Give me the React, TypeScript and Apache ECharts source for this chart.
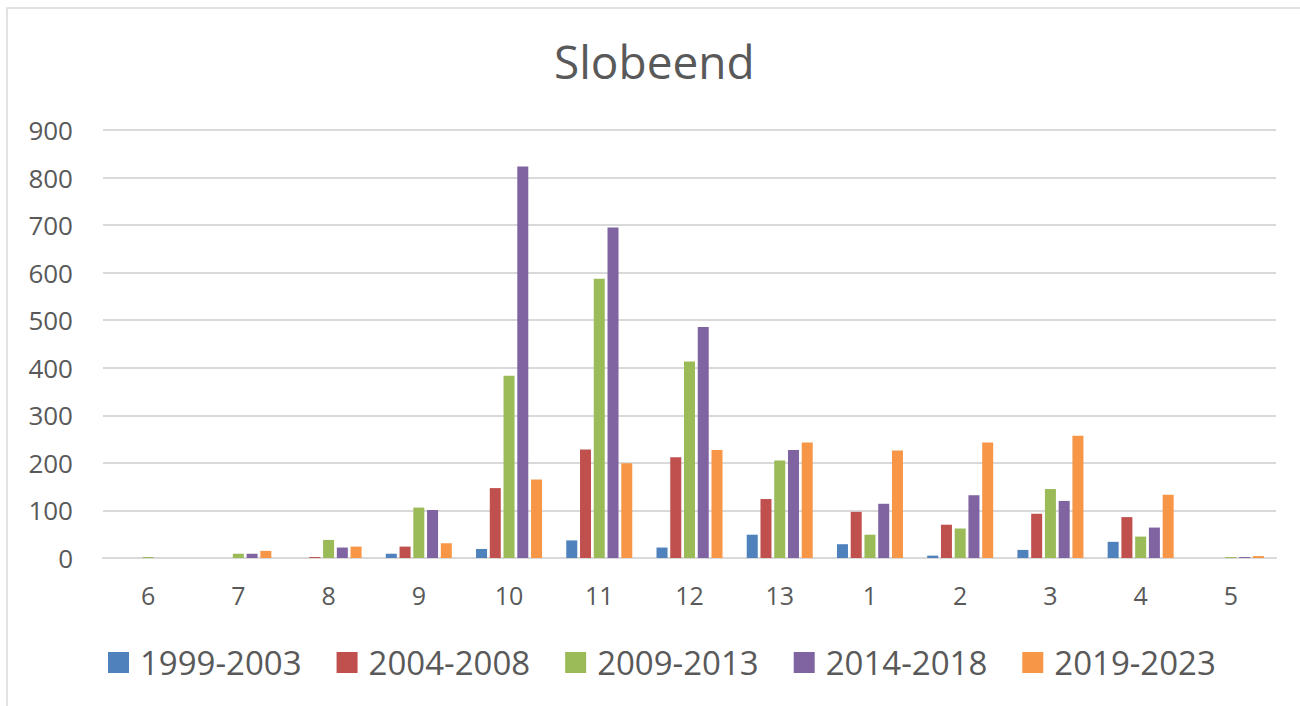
import React, { useEffect, useRef } from "react";
import * as echarts from "echarts";

const categories = ["6", "7", "8", "9", "10", "11", "12", "13", "1", "2", "3", "4", "5"];
const seriesNames = ["1999-2003", "2004-2008", "2009-2013", "2014-2018", "2019-2023"];
const s1999 = [0, 0, 0, 9, 19, 37, 22, 49, 29, 5, 17, 34, 0];
const s2004 = [0, 0, 2, 24, 147, 228, 212, 124, 97, 70, 93, 86, 0];
const s2009 = [2, 9, 38, 106, 383, 587, 413, 205, 49, 62, 145, 45, 2];
const s2014 = [0, 9, 22, 101, 823, 695, 486, 227, 114, 132, 120, 64, 2];
const s2019 = [0, 15, 24, 31, 165, 199, 227, 243, 226, 243, 257, 133, 4];
const colors = ["#4F81BD", "#C0504D", "#9BBB59", "#8064A2", "#F79646"];
const yTicks = [0, 100, 200, 300, 400, 500, 600, 700, 800, 900];

export default function App() {
  const ref = useRef<HTMLDivElement>(null);
  useEffect(() => {
    if (!ref.current) return;
    const chart = echarts.init(ref.current, undefined, { renderer: "svg" });
    const data = [s1999, s2004, s2009, s2014, s2019];
    const font = "'Open Sans', sans-serif";
    chart.setOption({
      animation: false,
      backgroundColor: "#ffffff",
      title: {
        text: "Slobeend",
        left: 549,
        top: 33,
        textStyle: { fontFamily: font, fontSize: 46, fontWeight: "normal", color: "#595959" },
      },
      graphic: [
        {
          type: "rect",
          shape: { x: 7, y: 8, width: 1400, height: 800 },
          style: { fill: "none", stroke: "#d9d9d9", lineWidth: 1.5 },
          silent: true,
        },
      ],
      legend: {
        bottom: 22,
        left: 103,
        itemWidth: 21,
        itemHeight: 21,
        itemGap: 35,
        icon: "rect",
        textStyle: { fontFamily: font, fontSize: 33, color: "#595959", padding: [0, 0, 0, 6] },
        data: seriesNames,
      },
      grid: { left: 103, right: 24, top: 130, bottom: 148, containLabel: false },
      xAxis: {
        type: "category",
        data: categories,
        axisTick: { show: false },
        axisLine: { lineStyle: { color: "#d9d9d9", width: 2 } },
        axisLabel: { fontFamily: font, fontSize: 25, color: "#595959", margin: 24 },
      },
      yAxis: {
        type: "value",
        min: yTicks[0],
        max: yTicks[yTicks.length - 1],
        interval: 100,
        axisLine: { show: false },
        axisTick: { show: false },
        splitLine: { lineStyle: { color: "#d9d9d9", width: 2 } },
        axisLabel: { fontFamily: font, fontSize: 26, color: "#595959", margin: 30 },
      },
      series: seriesNames.map((name, i) => ({
        name,
        type: "bar",
        data: data[i],
        barWidth: 11,
        barGap: "25%",
        itemStyle: { color: colors[i] },
      })),
    });
    return () => chart.dispose();
  }, []);
  return (
    <div
      ref={ref}
      style={{ position: "fixed", left: 0, top: 0, width: 1300, height: 706 }}
    />
  );
}
